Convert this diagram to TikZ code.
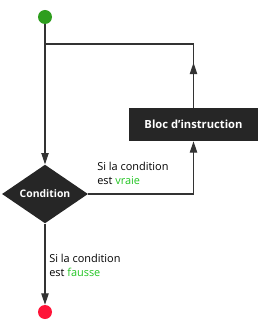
\documentclass[tikz,border=0pt]{standalone}
\usepackage{fontspec}
\setmainfont{Open Sans}
\usetikzlibrary{shapes.geometric,arrows.meta}
\definecolor{vert}{HTML}{2E9E1E}
\definecolor{vertclair}{HTML}{22C422}
\definecolor{rouge}{HTML}{FF1438}
\definecolor{noir}{HTML}{262626}
\definecolor{ligne}{HTML}{333333}
\begin{document}
\begin{tikzpicture}[x=.75pt,y=-.75pt,
                    line/.style={line width=.8pt,draw=ligne},
                    fleche/.style={line,-{Triangle[length=8.5pt,width=5.5pt]}},
                    dot/.style={circle,inner sep=0pt,minimum size=10.5pt},
                    boite/.style={fill=noir,text=white,font=\bfseries\fontsize{8.4}{10}\selectfont,
                                  minimum width=96.75pt,minimum height=24.75pt,inner sep=0pt},
                    losange/.style={diamond,fill=noir,text=white,font=\bfseries\fontsize{7.8}{10}\selectfont,
                                    minimum width=64.5pt,minimum height=44pt,inner sep=0pt},
                    every node/.style={font=\fontsize{8.2}{10.2}\selectfont}]
 \path (0,0) (258,320);
 \node[dot,fill=vert] (debut) at (45,17) {};
 \node[dot,fill=rouge] (fin) at (45,312) {};
 \node[boite] (bloc) at (193.5,124.5) {Bloc d'instruction};
 \node[losange] (cond) at (45,194) {Condition};
 \coordinate (j) at (45,44);
 \draw[fleche] (debut) -- (cond);
 \draw[fleche] (cond) -- (fin);
 \draw[fleche] (cond.east) -| (bloc.south);
 \draw[line] (bloc.north) |- (j);
 \draw[fleche] (bloc.north) -- ++(0,-45);
 \node[anchor=north west,align=left,inner sep=0pt] (vrai) at (97,162)
   {Si la condition\\est \textcolor{vertclair}{vraie}};
 \node[anchor=north west,align=left,inner sep=0pt] (faux) at (49,254)
   {Si la condition\\est \textcolor{vertclair}{fausse}};
\end{tikzpicture}
\end{document}
